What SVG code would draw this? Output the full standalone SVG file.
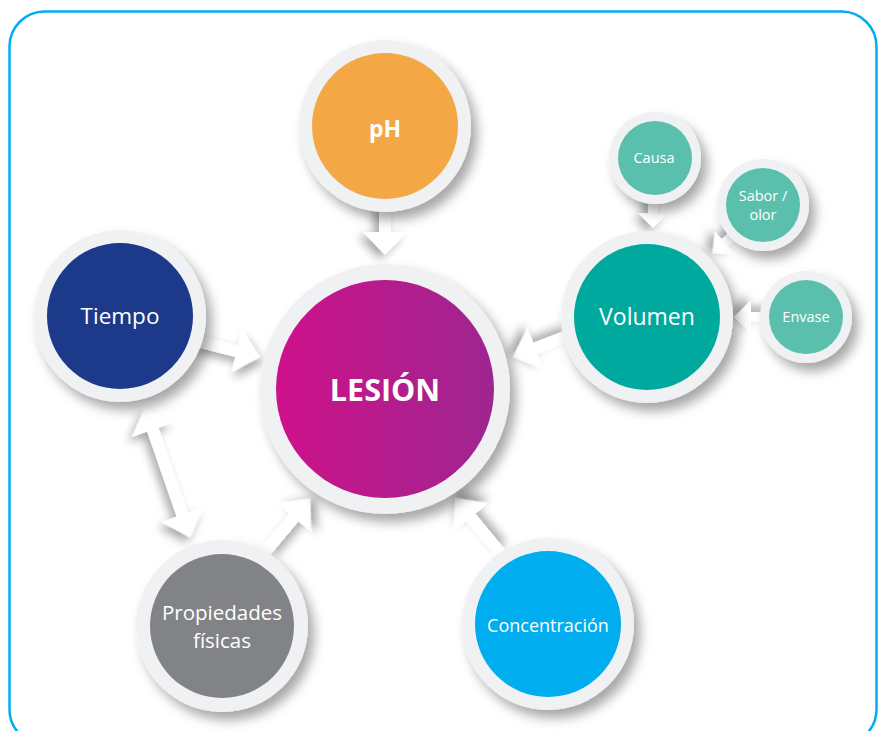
<svg xmlns="http://www.w3.org/2000/svg" width="885" height="731" viewBox="0 0 885 731">
  <defs>
    <linearGradient id="gLesion" x1="0" y1="0" x2="1" y2="0">
      <stop offset="0" stop-color="#cf118a"/>
      <stop offset="1" stop-color="#9d2690"/>
    </linearGradient>
    <filter id="shC" x="-30%" y="-30%" width="170%" height="170%">
      <feDropShadow dx="6" dy="8" stdDeviation="6" flood-color="#000" flood-opacity="0.35"/>
    </filter>
    <filter id="shA" x="-40%" y="-60%" width="180%" height="220%">
      <feDropShadow dx="4" dy="5" stdDeviation="5" flood-color="#000" flood-opacity="0.35"/>
    </filter>
    <style>
      .ring { fill: #f0f1f3; filter: url(#shC); }
      .arrow { fill: #ffffff; filter: url(#shA); }
      .t { fill: #ffffff; font-family: "Open Sans", "Noto Sans", "Liberation Sans", sans-serif; text-anchor: middle; }
      .b { font-weight: bold; }
    </style>
  </defs>
  <rect x="0" y="0" width="885" height="731" fill="#ffffff"/>
  <rect x="9.5" y="11.5" width="867" height="733" rx="35" ry="35" fill="none" stroke="#00aeef" stroke-width="2.5"/>

  <g id="connectors">
    <!-- pH -> LESION -->
    <polygon class="arrow" transform="translate(385,205) rotate(90)" points="0,-6 27,-6 27,-22 50,0 27,22 27,6 0,6"/>
    <!-- Tiempo -> LESION -->
    <polygon class="arrow" transform="translate(195,340.5) rotate(14.3)" points="0,-6 43,-6 43,-22 67,0 43,22 43,6 0,6"/>
    <!-- Volumen -> LESION -->
    <polygon class="arrow" transform="translate(570,335) rotate(158.9)" points="0,-6 37,-6 37,-22 61,0 37,22 37,6 0,6"/>
    <!-- Tiempo <-> Propiedades -->
    <polygon class="arrow" transform="translate(145,407) rotate(70.9)" points="0,0 24,-22 24,-6 114,-6 114,-22 138,0 114,22 114,6 24,6 24,22"/>
    <!-- Propiedades -> LESION -->
    <polygon class="arrow" transform="translate(265,552) rotate(-50)" points="0,-6 45,-6 45,-22 70,0 45,22 45,6 0,6"/>
    <!-- Concentracion -> LESION -->
    <polygon class="arrow" transform="translate(500,553) rotate(-129.3)" points="0,-6 46,-6 46,-22 71,0 46,22 46,6 0,6"/>
    <!-- Causa -> Volumen -->
    <polygon class="arrow" transform="translate(653,195) rotate(90)" points="0,-5 18,-5 18,-15 33,0 18,15 18,5 0,5"/>
    <!-- Sabor/olor -> Volumen -->
    <polygon class="arrow" transform="translate(743,227) rotate(139)" points="0,-5 24,-5 24,-15 40,0 24,15 24,5 0,5"/>
    <!-- Envase -> Volumen -->
    <polygon class="arrow" transform="translate(770,317) rotate(180)" points="0,-5 19,-5 19,-17 36,0 19,17 19,5 0,5"/>
  </g>

  <g id="node-ph">
    <circle class="ring" cx="385" cy="126" r="86"/>
    <circle cx="385" cy="126" r="73" fill="#f4a745"/>
    <text class="t b" x="385" y="137" font-size="23">pH</text>
  </g>

  <g id="node-tiempo">
    <circle class="ring" cx="120" cy="316" r="86"/>
    <circle cx="120" cy="316" r="73" fill="#1d3a8a"/>
    <text class="t" x="120" y="324" font-size="22.5">Tiempo</text>
  </g>

  <g id="node-volumen">
    <circle class="ring" cx="647" cy="317" r="86"/>
    <circle cx="647" cy="317" r="73" fill="#00a99d"/>
    <text class="t" x="647" y="325" font-size="23">Volumen</text>
  </g>

  <g id="node-causa">
    <circle class="ring" cx="655" cy="158" r="46"/>
    <circle cx="655" cy="158" r="37" fill="#5bbfad"/>
    <text class="t" x="654" y="163" font-size="14.5">Causa</text>
  </g>

  <g id="node-sabor">
    <circle class="ring" cx="763" cy="205" r="46"/>
    <circle cx="763" cy="205" r="37" fill="#5bbfad"/>
    <text class="t" x="763" y="201" font-size="14.5">Sabor /</text>
    <text class="t" x="763" y="220" font-size="14.5">olor</text>
  </g>

  <g id="node-envase">
    <circle class="ring" cx="806" cy="317" r="46"/>
    <circle cx="806" cy="317" r="37" fill="#5bbfad"/>
    <text class="t" x="806" y="322" font-size="14.5">Envase</text>
  </g>

  <g id="node-lesion">
    <circle class="ring" cx="385" cy="389" r="125"/>
    <circle cx="385" cy="389" r="109" fill="url(#gLesion)"/>
    <text class="t b" x="385" y="401" font-size="30.5">LESIÓN</text>
  </g>

  <g id="node-propiedades">
    <circle class="ring" cx="222" cy="626" r="86"/>
    <circle cx="222" cy="626" r="72" fill="#828386"/>
    <text class="t" x="222" y="620" font-size="20.5">Propiedades</text>
    <text class="t" x="222" y="648" font-size="20.5">físicas</text>
  </g>

  <g id="node-concentracion">
    <circle class="ring" cx="548" cy="624" r="86"/>
    <circle cx="548" cy="624" r="73" fill="#00aeef"/>
    <text class="t" x="548" y="632" font-size="18">Concentración</text>
  </g>
</svg>
